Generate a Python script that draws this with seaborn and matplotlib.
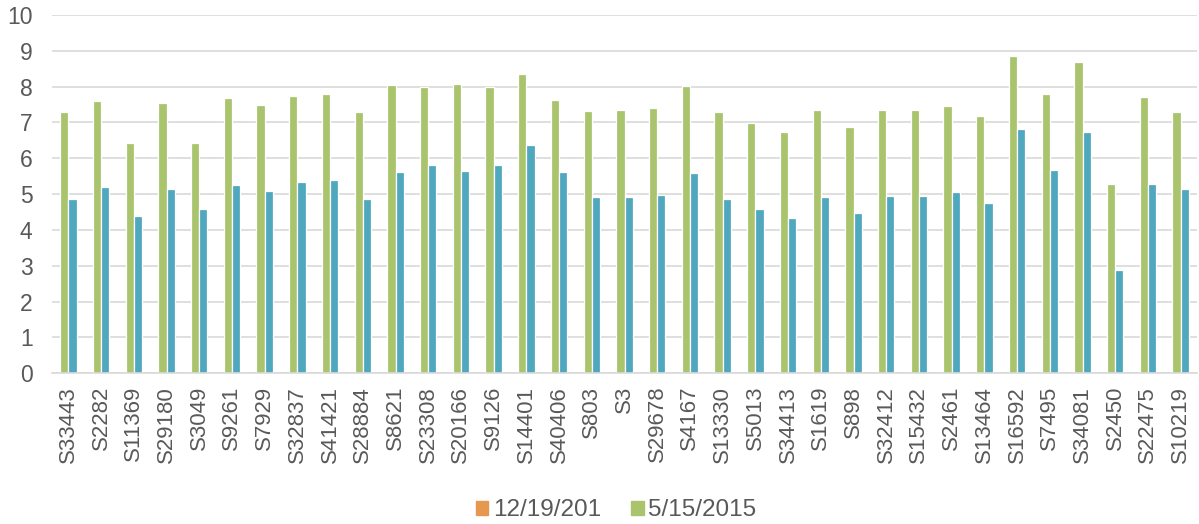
import pandas as pd
import matplotlib
matplotlib.use('Agg')
import matplotlib.pyplot as plt
import seaborn as sns

# Data
categories = ['S33443', 'S2282', 'S11369', 'S29180', 'S3049', 'S9261', 'S7929', 'S32837',
              'S41421', 'S28884', 'S8621', 'S23308', 'S20166', 'S9126', 'S14401', 'S40406',
              'S803', 'S3', 'S29678', 'S4167', 'S13330', 'S5013', 'S34413', 'S1619', 'S898',
              'S32412', 'S15432', 'S2461', 'S13464', 'S16592', 'S7495', 'S34081', 'S2450',
              'S22475', 'S10219']

series_names = ['12/19/201', '5/15/2015', 'Series3', 'Series4']

values_1219 = [0] * len(categories)
values_0515 = [7.28, 7.61, 6.44, 7.55, 6.44, 7.67, 7.50, 7.74, 7.80, 7.30, 8.04, 7.98,
               8.08, 7.98, 8.34, 7.63, 7.32, 7.34, 7.41, 8.02, 7.28, 6.99, 6.74, 7.34,
               6.88, 7.36, 7.36, 7.47, 7.18, 8.85, 7.79, 8.68, 5.28, 7.70, 7.28]
values_s3 = [4.87, 5.20, 4.39, 5.14, 4.59, 5.26, 5.09, 5.33, 5.39, 4.87, 5.63, 5.82,
             5.65, 5.82, 6.36, 5.61, 4.91, 4.93, 4.99, 5.59, 4.86, 4.58, 4.34, 4.91,
             4.48, 4.95, 4.95, 5.06, 4.76, 6.82, 5.67, 6.73, 2.88, 5.28, 5.13]
values_s4 = [0] * len(categories)

colors = ['#E49850', '#A9C46C', '#4FA8BE', '#8064A2']
text_color = '#595959'
grid_color = '#D9D9D9'

# long form table for seaborn
rows = []
for name, vals in zip(series_names, [values_1219, values_0515, values_s3, values_s4]):
    for cat, v in zip(categories, vals):
        rows.append({'Sample': cat, 'Series': name, 'Value': v})
df = pd.DataFrame(rows)

sns.set_style('white')
plt.rcParams['font.family'] = ['Liberation Sans', 'DejaVu Sans']

fig = plt.figure(figsize=(11.99, 5.24), dpi=100)
ax = fig.add_axes([52 / 1199, 150.7 / 524, 1145 / 1199, 358.3 / 524])

sns.barplot(data=df, x='Sample', y='Value', hue='Series', order=categories,
            hue_order=series_names, palette=colors, width=1.0, saturation=1,
            edgecolor='white', linewidth=0.9, ax=ax, legend=False)

ax.set_xlim(-0.5, len(categories) - 0.5)
ax.set_ylim(0, 10)
ax.set_yticks(range(0, 11))
ax.set_xlabel('')
ax.set_ylabel('')

ax.yaxis.grid(True, color=grid_color, linewidth=1.2)
ax.set_axisbelow(True)
for side in ['top', 'right', 'left']:
    ax.spines[side].set_visible(False)
ax.spines['bottom'].set_color(grid_color)
ax.spines['bottom'].set_linewidth(1.2)

ax.tick_params(axis='y', length=0, pad=14, labelsize=16.5, labelcolor=text_color)
ax.tick_params(axis='x', length=0, pad=9, labelsize=16, labelcolor=text_color)
plt.setp(ax.get_xticklabels(), rotation=90)

# legend only lists the first two series, as in the original
handles = [plt.Rectangle((0, 0), 1, 1, color=c) for c in colors[:2]]
fig.legend(handles, series_names[:2], loc='center', bbox_to_anchor=(0.514, 0.026),
           ncol=2, frameon=False, fontsize=17.5, labelcolor=text_color,
           handlelength=0.5, handleheight=0.5, handletextpad=0.2, columnspacing=1.25)

plt.savefig('out.png', dpi=100)
plt.close()
